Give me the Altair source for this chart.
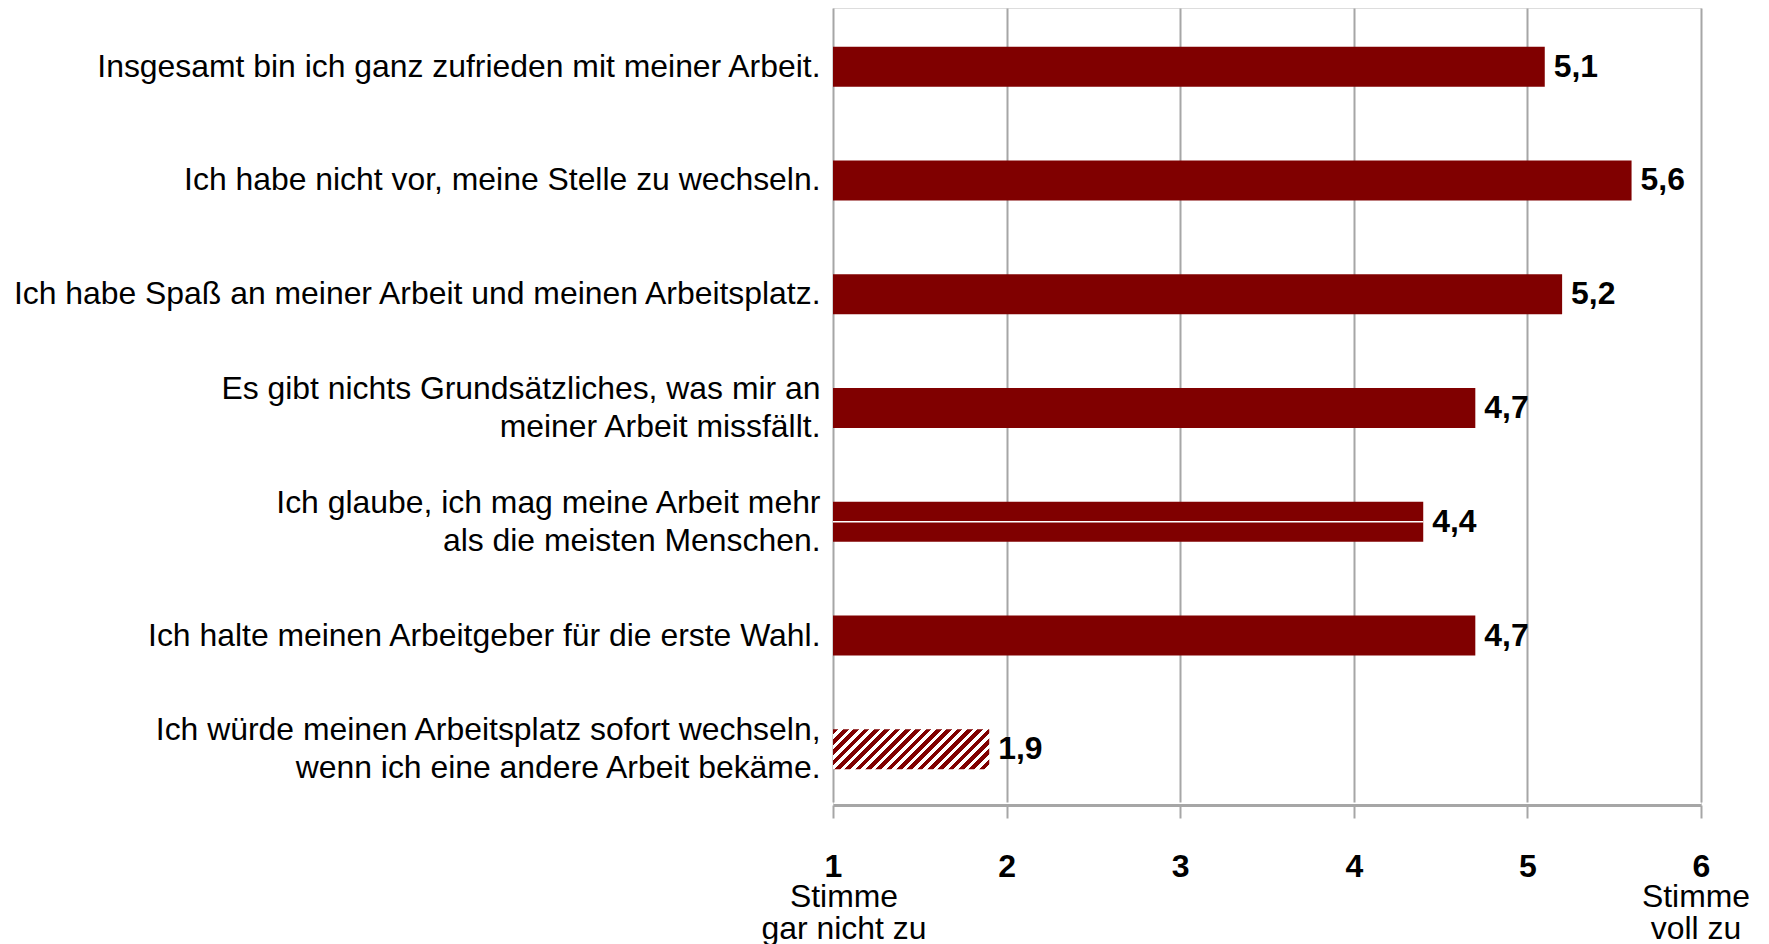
import altair as alt
import pandas as pd

# ---------------- data ----------------
statements = [
    "Insgesamt bin ich ganz zufrieden mit meiner Arbeit.",
    "Ich habe nicht vor, meine Stelle zu wechseln.",
    "Ich habe Spaß an meiner Arbeit und meinen Arbeitsplatz.",
    "Es gibt nichts Grundsätzliches, was mir an\nmeiner Arbeit missfällt.",
    "Ich glaube, ich mag meine Arbeit mehr\nals die meisten Menschen.",
    "Ich halte meinen Arbeitgeber für die erste Wahl.",
    "Ich würde meinen Arbeitsplatz sofort wechseln,\nwenn ich eine andere Arbeit bekäme.",
]
means = [5.1, 5.6, 5.2, 4.7, 4.4, 4.7, 1.9]
tick_values = [1, 2, 3, 4, 5, 6]
scale_low = [1]
scale_low_label = ["Stimme\ngar nicht zu"]
scale_high = [6]
scale_high_label = ["Stimme\nvoll zu"]

REVERSED_ITEM = statements[6]
SPLIT_ITEM = statements[4]

# ---------------- style ----------------
FONT = "Liberation Sans, Arial, Helvetica, sans-serif"
DARK = "#800000"
GRID = "#a6a6a6"
FS = 31.9
W, H = 868, 797

# diagonal hatch imitated by a sharp-stop linear gradient
N = 19
dark_frac = 0.55
stops = []
for k in range(N):
    a = round(k / N, 5)
    b = round((k + dark_frac) / N, 5)
    c = round((k + 1) / N, 5)
    stops += [
        {"offset": a, "color": DARK},
        {"offset": b, "color": DARK},
        {"offset": b, "color": "white"},
        {"offset": c, "color": "white"},
    ]
r = 40.0 / 156.0
s = (1 + r) / (1 + r * r)
hatch_fill = {"gradient": "linear", "x1": 0, "y1": 0, "x2": s, "y2": s * r, "stops": stops}

df = pd.DataFrame({"item": statements, "mean": means})
low_df = pd.DataFrame({"x": scale_low, "t": scale_low_label})
high_df = pd.DataFrame({"x": scale_high, "t": scale_high_label})

xscale = alt.Scale(domain=[1, 6], nice=False, zero=False)
yscale = alt.Scale(domain=statements, range=[3, H], paddingInner=0.6484, paddingOuter=0.314)

y_enc = alt.Y(
    "item:N",
    scale=yscale,
    axis=alt.Axis(
        title=None, domain=False, ticks=False, grid=False,
        labelExpr="split(datum.label, '\\n')",
        labelFont=FONT, labelFontSize=FS, labelColor="black",
        labelAlign="right", labelBaseline="middle", labelLineHeight=38,
        labelPadding=13, labelLimit=900,
        labelOffset={"condition": {"test": "indexof(datum.value, '\\n') >= 0", "value": -19}, "value": 0},
    ),
)
x_enc = alt.X(
    "mean:Q",
    scale=xscale,
    axis=alt.Axis(
        title=None, values=tick_values, format="d",
        grid=True, gridColor=GRID, gridWidth=2,
        domainColor=GRID, domainWidth=3,
        tickColor=GRID, tickWidth=2, tickSize=13,
        labelFont=FONT, labelFontSize=32, labelFontWeight="bold", labelColor="black",
        labelBaseline="middle", labelPadding=48, labelFlush=False, labelOverlap=False,
    ),
)

base = alt.Chart(df)

bars = base.mark_bar(color=DARK).encode(
    y=y_enc, x=x_enc, x2=alt.datum(1)
).transform_filter(alt.datum.item != REVERSED_ITEM)

hatch = base.mark_bar(fill=hatch_fill).encode(
    y=y_enc, x=x_enc, x2=alt.datum(1)
).transform_filter(alt.datum.item == REVERSED_ITEM)

split_line = base.mark_rule(color="white", strokeWidth=1.5).encode(
    y=y_enc, x=x_enc, x2=alt.datum(1)
).transform_filter(alt.datum.item == SPLIT_ITEM)

values = base.mark_text(
    align="left", baseline="middle", dx=9, font=FONT, fontSize=FS,
    fontWeight="bold", color="black",
).encode(
    y=y_enc, x=x_enc, text="lbl:N"
).transform_calculate(lbl="replace(format(datum.mean, '.1f'), '.', ',')")

low_txt = alt.Chart(low_df).mark_text(
    lineBreak="\n", font=FONT, fontSize=FS, color="black",
    align="center", baseline="middle", lineHeight=32, dx=11,
).encode(x=alt.X("x:Q", scale=xscale), y=alt.value(889), text="t:N")

high_txt = alt.Chart(high_df).mark_text(
    lineBreak="\n", font=FONT, fontSize=FS, color="black",
    align="center", baseline="middle", lineHeight=32, dx=-5,
).encode(x=alt.X("x:Q", scale=xscale), y=alt.value(889), text="t:N")

chart = alt.layer(bars, hatch, split_line, values, low_txt, high_txt).properties(
    width=W, height=H,
    autosize=alt.AutoSizeParams(type="none"),
    padding={"left": 825, "top": 0, "right": 60, "bottom": 139},
).configure_view(stroke=None).configure(background="white")

chart.save("out.html", embed_options={"renderer": "svg", "actions": False})
